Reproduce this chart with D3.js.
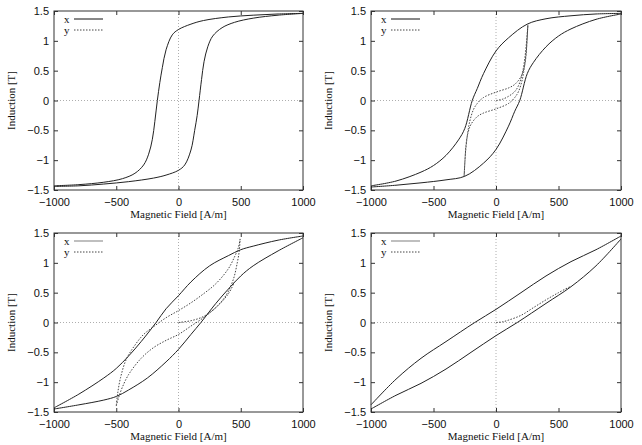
<!DOCTYPE html>
<html>
<head>
<meta charset="utf-8">
<script src="https://cdn.jsdelivr.net/npm/d3@7"></script>
<style>
  body { margin: 0; background: #fff; }
  svg { display: block; font-family: "Liberation Serif", "DejaVu Serif", serif; }
  .tick text { font-size: 11px; fill: #111; }
  .tick line { stroke: #333; }
  .axis-title { font-size: 11px; fill: #111; }
</style>
</head>
<body>
<svg id="chart" width="642" height="445"></svg>
<script>
// tick values
const ticksX = [-1000, -500, 0, 500, 1000];
const ticksY = [-1.5, -1, -0.5, 0, 0.5, 1, 1.5];

// panel 1: major loop, x only
const p1Down = [[1000, 1.46], [800, 1.45], [600, 1.43], [400, 1.40], [200, 1.34], [100, 1.28], [0, 1.19], [-50, 1.10], [-100, 0.85], [-130, 0.55], [-150, 0.30], [-170, 0.0], [-190, -0.35], [-210, -0.65], [-240, -0.90], [-280, -1.08], [-350, -1.22], [-450, -1.31], [-600, -1.37], [-800, -1.41], [-1000, -1.43]];
const p1Up = [[-1000, -1.44], [-800, -1.43], [-600, -1.40], [-400, -1.36], [-200, -1.30], [-100, -1.25], [0, -1.17], [50, -1.08], [100, -0.83], [130, -0.50], [150, -0.25], [165, 0.0], [185, 0.35], [205, 0.65], [235, 0.90], [275, 1.08], [350, 1.22], [450, 1.31], [600, 1.38], [800, 1.43], [1000, 1.46]];

// panel 2: major loop + minor loop (y)
const p2Down = [[1000, 1.46], [800, 1.45], [600, 1.42], [400, 1.37], [250, 1.28], [100, 1.05], [0, 0.83], [-100, 0.45], [-150, 0.2], [-190, 0.0], [-250, -0.47], [-300, -0.66], [-400, -0.92], [-500, -1.09], [-600, -1.20], [-800, -1.35], [-1000, -1.43]];
const p2Up = [[-1000, -1.45], [-800, -1.42], [-600, -1.38], [-400, -1.33], [-250, -1.27], [-100, -1.05], [0, -0.82], [100, -0.43], [150, -0.18], [190, 0.0], [250, 0.45], [300, 0.64], [400, 0.90], [500, 1.08], [600, 1.20], [800, 1.36], [1000, 1.45]];
const p2Init = [[0, 0], [50, 0.02], [100, 0.07], [150, 0.15], [180, 0.25], [210, 0.45], [230, 0.7], [245, 1.0], [255, 1.27]];
const p2MinorDown = [[255, 1.27], [248, 1.0], [240, 0.75], [225, 0.55], [200, 0.40], [150, 0.27], [100, 0.21], [0, 0.14], [-100, 0.05], [-150, -0.05], [-180, -0.15], [-210, -0.35], [-230, -0.6], [-245, -0.9], [-255, -1.27]];
const p2MinorUp = [[-255, -1.27], [-248, -1.0], [-240, -0.75], [-225, -0.55], [-200, -0.40], [-150, -0.27], [-100, -0.21], [0, -0.14], [100, -0.05], [150, 0.05], [180, 0.15], [210, 0.35], [230, 0.6], [245, 0.9], [255, 1.27]];

// panel 3
const p3Down = [[1000, 1.45], [800, 1.38], [600, 1.28], [500, 1.22], [400, 1.12], [250, 0.95], [100, 0.68], [0, 0.45], [-100, 0.23], [-180, 0.0], [-300, -0.32], [-400, -0.56], [-500, -0.77], [-600, -0.93], [-800, -1.20], [-1000, -1.43]];
const p3Up = [[-1000, -1.45], [-800, -1.38], [-600, -1.30], [-500, -1.24], [-400, -1.13], [-250, -0.93], [-100, -0.66], [0, -0.45], [100, -0.20], [180, 0.0], [300, 0.32], [400, 0.56], [500, 0.78], [600, 0.95], [800, 1.20], [1000, 1.42]];
const p3Init = [[0, 0], [100, 0.03], [200, 0.1], [300, 0.25], [400, 0.48], [450, 0.68]];
const p3MinorDown = [[495, 1.40], [480, 1.25], [450, 1.1], [400, 0.9], [300, 0.65], [200, 0.48], [100, 0.33], [0, 0.2], [-100, 0.08], [-200, -0.07], [-280, -0.2], [-350, -0.38], [-420, -0.62], [-465, -0.92], [-488, -1.18], [-500, -1.40]];
const p3MinorUp = [[-500, -1.40], [-480, -1.25], [-450, -1.08], [-400, -0.87], [-300, -0.6], [-200, -0.42], [-100, -0.3], [0, -0.2], [100, -0.06], [200, 0.08], [300, 0.25], [380, 0.45], [440, 0.72], [472, 1.0], [488, 1.2], [495, 1.40]];

// panel 4
const p4Down = [[1000, 1.45], [800, 1.22], [600, 1.02], [400, 0.78], [200, 0.50], [0, 0.22], [-170, 0.0], [-400, -0.32], [-600, -0.60], [-800, -0.95], [-1000, -1.38]];
const p4Up = [[-1000, -1.45], [-800, -1.22], [-600, -1.02], [-400, -0.78], [-200, -0.50], [0, -0.22], [170, 0.0], [400, 0.32], [600, 0.60], [800, 0.95], [1000, 1.40]];
const p4Init = [[0, 0], [50, 0.01], [100, 0.04], [200, 0.12], [300, 0.25], [400, 0.38], [500, 0.50], [600, 0.61]];

const panels = [
  { left: 54, right: 303, top: 11, bottom: 190, solid: [p1Down, p1Up], dotted: [], keyX: "#111" },
  { left: 371, right: 621, top: 11, bottom: 190, solid: [p2Down, p2Up], dotted: [p2Init, p2MinorDown, p2MinorUp], keyX: "#111" },
  { left: 54, right: 303, top: 233, bottom: 412, solid: [p3Down, p3Up], dotted: [p3Init, p3MinorDown, p3MinorUp], keyX: "#aaa" },
  { left: 371, right: 621, top: 233, bottom: 412, solid: [p4Down, p4Up], dotted: [p4Init], keyX: "#aaa" },
];

const svg = d3.select("#chart");
const fmt = d3.format("");

panels.forEach((p) => {
  const x = d3.scaleLinear().domain([-1000, 1000]).range([p.left, p.right]);
  const y = d3.scaleLinear().domain([-1.5, 1.5]).range([p.bottom, p.top]);
  const g = svg.append("g");

  // zero axes
  g.append("line")
    .attr("x1", x(0)).attr("x2", x(0)).attr("y1", p.top).attr("y2", p.bottom)
    .attr("stroke", "#999").attr("stroke-width", 0.8).attr("stroke-dasharray", "1,2");
  g.append("line")
    .attr("x1", p.left).attr("x2", p.right).attr("y1", y(0)).attr("y2", y(0))
    .attr("stroke", "#999").attr("stroke-width", 0.8).attr("stroke-dasharray", "1,2");

  const axes = [
    [d3.axisBottom(x).tickValues(ticksX).tickFormat(fmt).tickPadding(8), `translate(0,${p.bottom})`],
    [d3.axisTop(x).tickValues(ticksX).tickFormat(""), `translate(0,${p.top})`],
    [d3.axisLeft(y).tickValues(ticksY).tickFormat(fmt).tickPadding(5), `translate(${p.left},0)`],
    [d3.axisRight(y).tickValues(ticksY).tickFormat(""), `translate(${p.right},0)`],
  ];
  axes.forEach(([axis, tr]) => {
    const a = g.append("g").attr("transform", tr).call(axis.tickSize(-4));
    a.select(".domain").remove();
    a.selectAll("text").attr("font-family", null).attr("font-size", null);
  });

  g.append("rect")
    .attr("x", p.left).attr("y", p.top)
    .attr("width", p.right - p.left).attr("height", p.bottom - p.top)
    .attr("fill", "none").attr("stroke", "#333").attr("stroke-width", 1);

  const line = d3.line()
    .x((d) => x(d[0]))
    .y((d) => y(d[1]))
    .curve(d3.curveCatmullRom.alpha(0.5));

  p.dotted.forEach((s) => {
    g.append("path").attr("d", line(s))
      .attr("fill", "none").attr("stroke", "#444").attr("stroke-width", 1)
      .attr("stroke-dasharray", "1.5,1.5");
  });
  p.solid.forEach((s) => {
    g.append("path").attr("d", line(s))
      .attr("fill", "none").attr("stroke", "#222").attr("stroke-width", 1);
  });

  // legend
  const keys = [["x", p.keyX, null], ["y", "#444", "1.5,1.5"]];
  keys.forEach(([name, color, dash], i) => {
    const ky = p.top + 8 + i * 11;
    g.append("text").attr("class", "axis-title")
      .attr("x", p.left + 10).attr("y", ky + 3.5).text(name);
    g.append("line")
      .attr("x1", p.left + 20).attr("x2", p.left + 49)
      .attr("y1", ky).attr("y2", ky)
      .attr("stroke", color).attr("stroke-width", name === "x" && p.keyX !== "#111" ? 1.5 : 1)
      .attr("stroke-dasharray", dash);
  });

  // axis titles
  g.append("text").attr("class", "axis-title")
    .attr("x", (p.left + p.right) / 2).attr("y", p.bottom + 28)
    .attr("text-anchor", "middle").text("Magnetic Field [A/m]");
  g.append("text").attr("class", "axis-title")
    .attr("transform", `translate(${p.left - 39},${(p.top + p.bottom) / 2}) rotate(-90)`)
    .attr("text-anchor", "middle").text("Induction [T]");
});
</script>
</body>
</html>
